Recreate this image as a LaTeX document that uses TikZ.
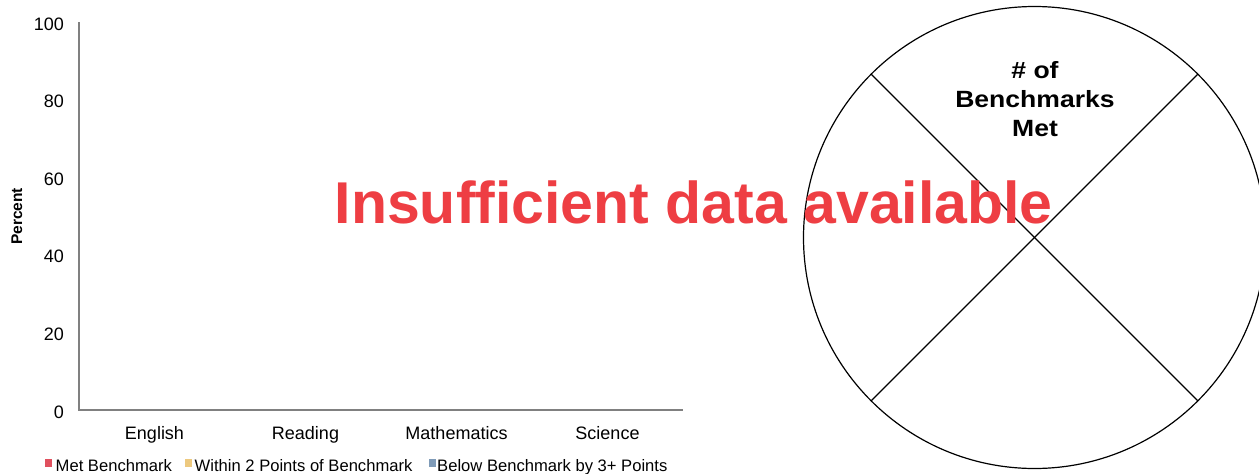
\documentclass[tikz,border=0pt]{standalone}
\usepackage{fontspec}
\setmainfont{Liberation Sans}
\usetikzlibrary{calc}
\definecolor{bigred}{RGB}{238,62,67}
\definecolor{axisgray}{RGB}{128,128,128}
\definecolor{legred}{RGB}{224,80,94}
\definecolor{legyellow}{RGB}{237,201,127}
\definecolor{legblue}{RGB}{127,155,184}
\begin{document}
\begin{tikzpicture}[x=1pt,y=-1pt,
  ticklab/.style={anchor=base east,inner sep=0pt,font=\fontsize{18}{20}\selectfont},
  catlab/.style={anchor=base,inner sep=0pt,font=\fontsize{18}{20}\selectfont},
  leglab/.style={anchor=base west,inner sep=0pt,font=\fontsize{16.6}{19}\selectfont},
  legsq/.style={fill,minimum width=7pt,minimum height=8pt,inner sep=0pt,anchor=north west},
  axisline/.style={draw=axisgray,line width=1.4pt},
  pieline/.style={draw=black,line width=1.2pt},
  pietext/.style={anchor=base,inner sep=0pt,font=\fontsize{23.5}{29}\selectfont\bfseries}]
\useasboundingbox (0,0) rectangle (1259,474);
\begin{scope}
\clip (0,0) rectangle (1259,474);
% pie
\coordinate (pc) at (1034.5,237.5);
\draw[pieline] (pc) circle[radius=231];
\coordinate (pul) at ($(pc)+(-163.3,-163.3)$);
\coordinate (pur) at ($(pc)+(163.3,-163.3)$);
\coordinate (pll) at ($(pc)+(-163.3,163.3)$);
\coordinate (plr) at ($(pc)+(163.3,163.3)$);
\draw[pieline] (pul) -- (plr);
\draw[pieline] (pur) -- (pll);
\end{scope}
\node[pietext] (pt1) at (1035,78) {\scalebox{1.13}[1]{\# of}};
\node[pietext] (pt2) at (1035,107) {\scalebox{1.13}[1]{Benchmarks}};
\node[pietext] (pt3) at (1035,136) {\scalebox{1.13}[1]{Met}};
% axes
\coordinate (o) at (79,410);
\coordinate (ytop) at (79,22);
\coordinate (xend) at (683,410);
\draw[axisline] (ytop) -- (o) -- (xend);
% tick labels
\foreach \v/\n in {0/t0,20/t20,40/t40,60/t60,80/t80,100/t100}
  \node[ticklab] (\n) at (64,{410-3.88*\v+8}) {\v};
% category labels
\node[catlab] (cEng) at (154.5,439) {English};
\node[catlab] (cRead) at (305.5,439) {Reading};
\node[catlab] (cMath) at (456.5,439) {Mathematics};
\node[catlab] (cSci) at (607.5,439) {Science};
% y label
\node[anchor=base,inner sep=0pt,rotate=90,font=\fontsize{15.5}{18}\selectfont\bfseries] (ylab) at (22,216.5) {Percent};
% legend
\node[legsq,fill=legred] (sq1) at (45,459) {};
\node[leglab] (l1) at (55.5,471.3) {Met Benchmark};
\node[legsq,fill=legyellow] (sq2) at (185,459) {};
\node[leglab] (l2) at (194.5,471.3) {Within 2 Points of Benchmark};
\node[legsq,fill=legblue] (sq3) at (428.5,459) {};
\node[leglab] (l3) at (437,471.3) {Below Benchmark by 3+ Points};
% overlay message
\node[anchor=base west,inner sep=0pt,text=bigred,font=\fontsize{59}{61}\selectfont\bfseries] (msg) at (334.5,223.3) {Insufficient data available};
\end{tikzpicture}
\end{document}
